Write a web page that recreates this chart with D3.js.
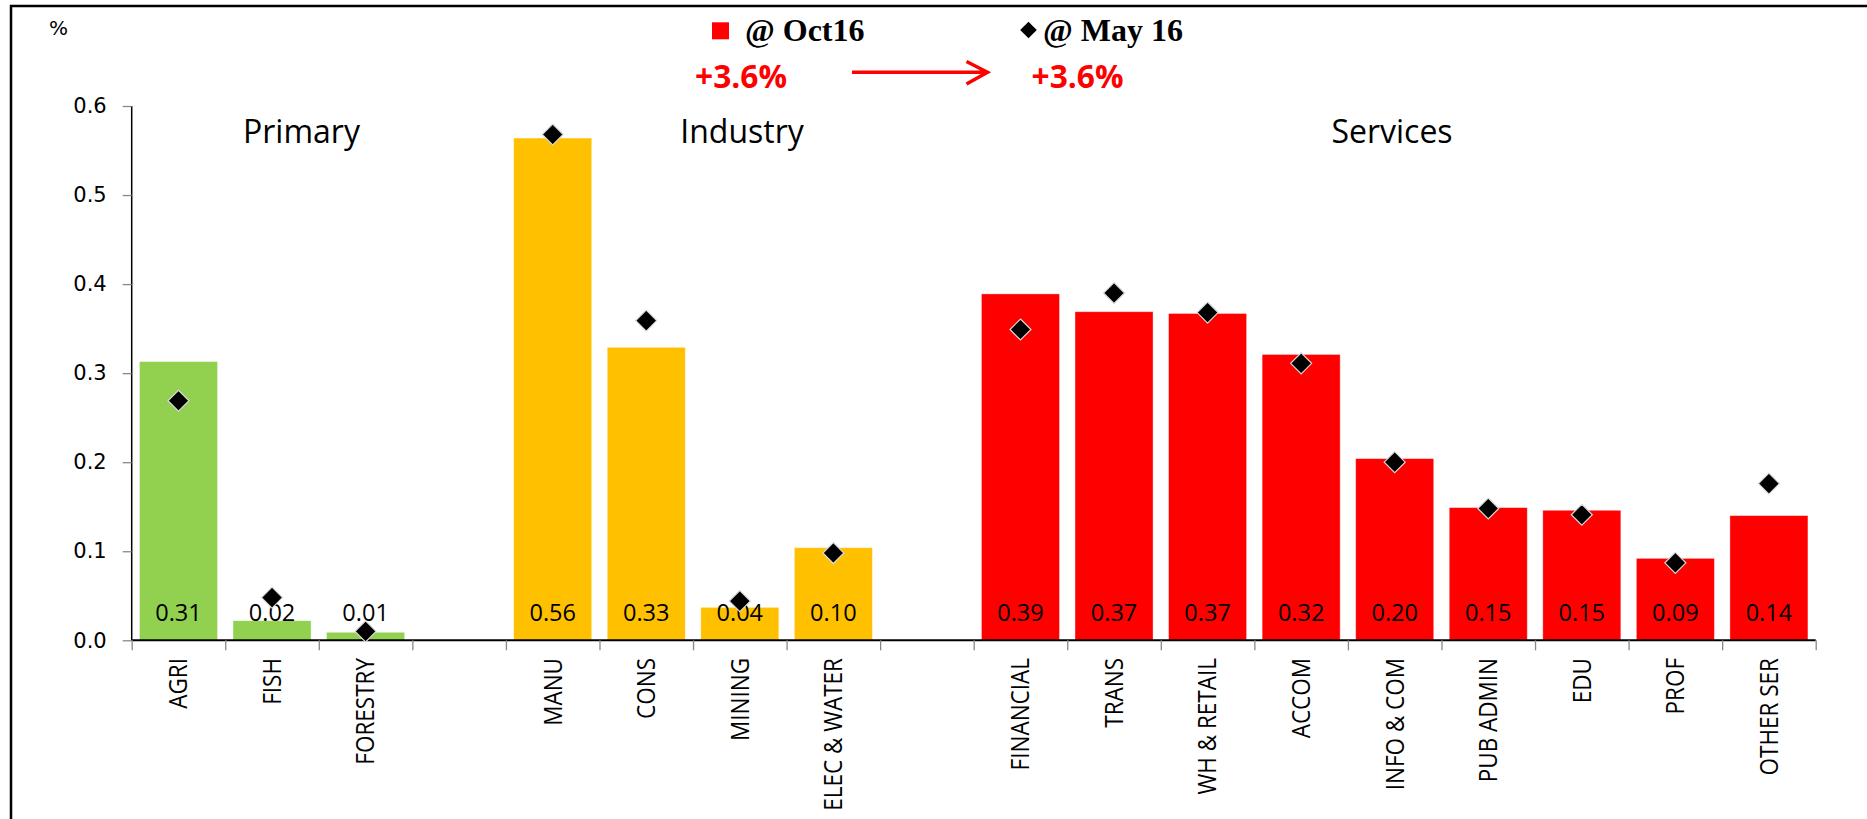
<!DOCTYPE html>
<html>
<head>
<meta charset="utf-8">
<script src="https://cdn.jsdelivr.net/npm/d3@7"></script>
<style>
  html, body { margin: 0; padding: 0; background: #ffffff; }
  svg { display: block; }
</style>
</head>
<body>
<svg id="chart" width="1867" height="819"></svg>
<script>
// Sector contribution to growth (%), grouped by broad sector
const sectors = ["AGRI", "FISH", "FORESTRY",
                 "MANU", "CONS", "MINING", "ELEC & WATER",
                 "FINANCIAL", "TRANS", "WH & RETAIL", "ACCOM", "INFO & COM",
                 "PUB ADMIN", "EDU", "PROF", "OTHER SER"];
const sectorGroup = ["Primary", "Primary", "Primary",
                     "Industry", "Industry", "Industry", "Industry",
                     "Services", "Services", "Services", "Services", "Services",
                     "Services", "Services", "Services", "Services"];
const groupNames = ["Primary", "Industry", "Services"];
const groupColors = ["#92D050", "#FFC000", "#FF0000"];
const oct16 = [0.313, 0.022, 0.009,
               0.564, 0.329, 0.037, 0.104,
               0.389, 0.369, 0.367, 0.321, 0.204,
               0.149, 0.146, 0.092, 0.140];
const may16 = [0.269, 0.048, 0.010,
               0.568, 0.359, 0.044, 0.098,
               0.349, 0.390, 0.368, 0.311, 0.200,
               0.148, 0.141, 0.087, 0.176];
const yTicks = [0, 0.1, 0.2, 0.3, 0.4, 0.5, 0.6];
const legendNames = ["@ Oct16", "@ May 16"];
const totals = ["+3.6%", "+3.6%"];

const svg = d3.select("#chart");

// outer frame
svg.append("path")
  .attr("d", "M11,830 L11,6 L1880,6")
  .attr("fill", "none").attr("stroke", "#000").attr("stroke-width", 2.5);

// slot domain: one empty slot between broad groups
const slots = [];
groupNames.forEach((g, gi) => {
  if (gi > 0) slots.push("gap-" + gi);
  sectors.forEach((s, i) => { if (sectorGroup[i] === g) slots.push(s); });
});

const x0 = 131.7, x1 = 1815.7, yBase = 640.3, yTop = 106;
const x = d3.scaleBand().domain(slots).range([x0, x1]).paddingInner(0.166).paddingOuter(0.083);
const slotEdge = d3.scaleLinear().domain([0, slots.length]).range([x0, x1]);
const y = d3.scaleLinear().domain([0, 0.6]).range([yBase, yTop]);
const color = d3.scaleOrdinal().domain(groupNames).range(groupColors);

const data = sectors.map((s, i) => ({ name: s, group: sectorGroup[i], v: oct16[i], p: may16[i] }));

// y axis
const yAxis = svg.append("g")
  .attr("transform", `translate(${x0},0)`)
  .call(d3.axisLeft(y).tickValues(yTicks).tickFormat(d3.format(".1f")).tickSize(9).tickPadding(16));
yAxis.select(".domain").attr("stroke", "#000").attr("stroke-width", 1.5).attr("d", `M0,${yTop}V${yBase}`);
yAxis.selectAll(".tick line").attr("stroke", "#888").attr("stroke-width", 1.3);
yAxis.selectAll(".tick text")
  .attr("font-family", "DejaVu Sans").attr("font-size", 21).attr("fill", "#000");

// bars
svg.append("g").selectAll("rect").data(data).join("rect")
  .attr("x", d => x(d.name))
  .attr("width", x.bandwidth())
  .attr("y", d => y(d.v))
  .attr("height", d => y(0) - y(d.v))
  .attr("fill", d => color(d.group))
  .attr("stroke", "rgba(255,255,255,0.45)")
  .attr("stroke-width", 0.8);

// x axis: ticks at slot boundaries
const xAxis = svg.append("g")
  .attr("transform", `translate(0,${yBase})`)
  .call(d3.axisBottom(slotEdge).tickValues(d3.range(slots.length + 1)).tickFormat("").tickSize(10));
xAxis.select(".domain").attr("stroke", "#000").attr("stroke-width", 2).attr("d", `M${x0},0H${x1}`);
xAxis.selectAll(".tick line").attr("stroke", "#888").attr("stroke-width", 1.3);

// category labels
svg.append("g").selectAll("text").data(data).join("text")
  .attr("transform", d => `translate(${x(d.name) + x.bandwidth() / 2},658) rotate(-90) scale(1,1.1)`)
  .attr("text-anchor", "end")
  .attr("dy", "0.36em")
  .attr("font-family", "Open Sans")
  .attr("font-size", 22.5)
  .attr("fill", "#000")
  .text(d => d.name);

// value labels near the base of each bar
const fmt = d3.format(".2f");
svg.append("g").selectAll("text").data(data).join("text")
  .attr("x", d => x(d.name) + x.bandwidth() / 2)
  .attr("y", y(0) - 19.5)
  .attr("text-anchor", "middle")
  .attr("font-family", "Open Sans")
  .attr("font-size", 23.5)
  .attr("fill", "#000")
  .text(d => fmt(d.v));

// May 16 markers
const diamond = r => `M0,${-r}L${r},0L0,${r}L${-r},0Z`;
svg.append("g").selectAll("path").data(data).join("path")
  .attr("transform", d => `translate(${x(d.name) + x.bandwidth() / 2},${y(d.p)})`)
  .attr("d", diamond(10.5))
  .attr("fill", "#000")
  .attr("stroke", "#d9d9d9")
  .attr("stroke-width", 1.2);

// group titles
const groupTitleX = { Primary: 301.5, Industry: 742, Services: 1392 };
svg.append("g").selectAll("text").data(groupNames).join("text")
  .attr("x", d => groupTitleX[d])
  .attr("y", 143)
  .attr("text-anchor", "middle")
  .attr("font-family", "Open Sans")
  .attr("font-size", 32)
  .attr("fill", "#000")
  .text(d => d);

// unit label
svg.append("text")
  .attr("x", 49).attr("y", 35)
  .attr("font-family", "DejaVu Sans").attr("font-size", 20).attr("fill", "#000")
  .text("%");

// legend
svg.append("rect").attr("x", 712).attr("y", 22.3).attr("width", 17).attr("height", 17).attr("fill", "#FF0000");
svg.append("path").attr("transform", "translate(1028.5,30)").attr("d", diamond(8.3)).attr("fill", "#000");
const legendX = [745, 1043];
svg.append("g").selectAll("text").data(legendNames).join("text")
  .attr("x", (d, i) => legendX[i])
  .attr("y", 40.8)
  .attr("font-family", "Liberation Serif")
  .attr("font-weight", "bold")
  .attr("font-size", 32)
  .attr("fill", "#000")
  .text(d => d);

// total growth annotations and arrow
const totalX = [695, 1031.5];
svg.append("g").selectAll("text").data(totals).join("text")
  .attr("x", (d, i) => totalX[i])
  .attr("y", 87.7)
  .attr("font-family", "Open Sans")
  .attr("font-weight", "bold")
  .attr("font-size", 32.5)
  .attr("textLength", 92)
  .attr("lengthAdjust", "spacingAndGlyphs")
  .attr("fill", "#FF0000")
  .text(d => d);

svg.append("path")
  .attr("d", "M852,72.3H986 M966.5,61.5L987.5,72.3L966.5,84")
  .attr("fill", "none").attr("stroke", "#FF0000").attr("stroke-width", 3.5);
</script>
</body>
</html>
